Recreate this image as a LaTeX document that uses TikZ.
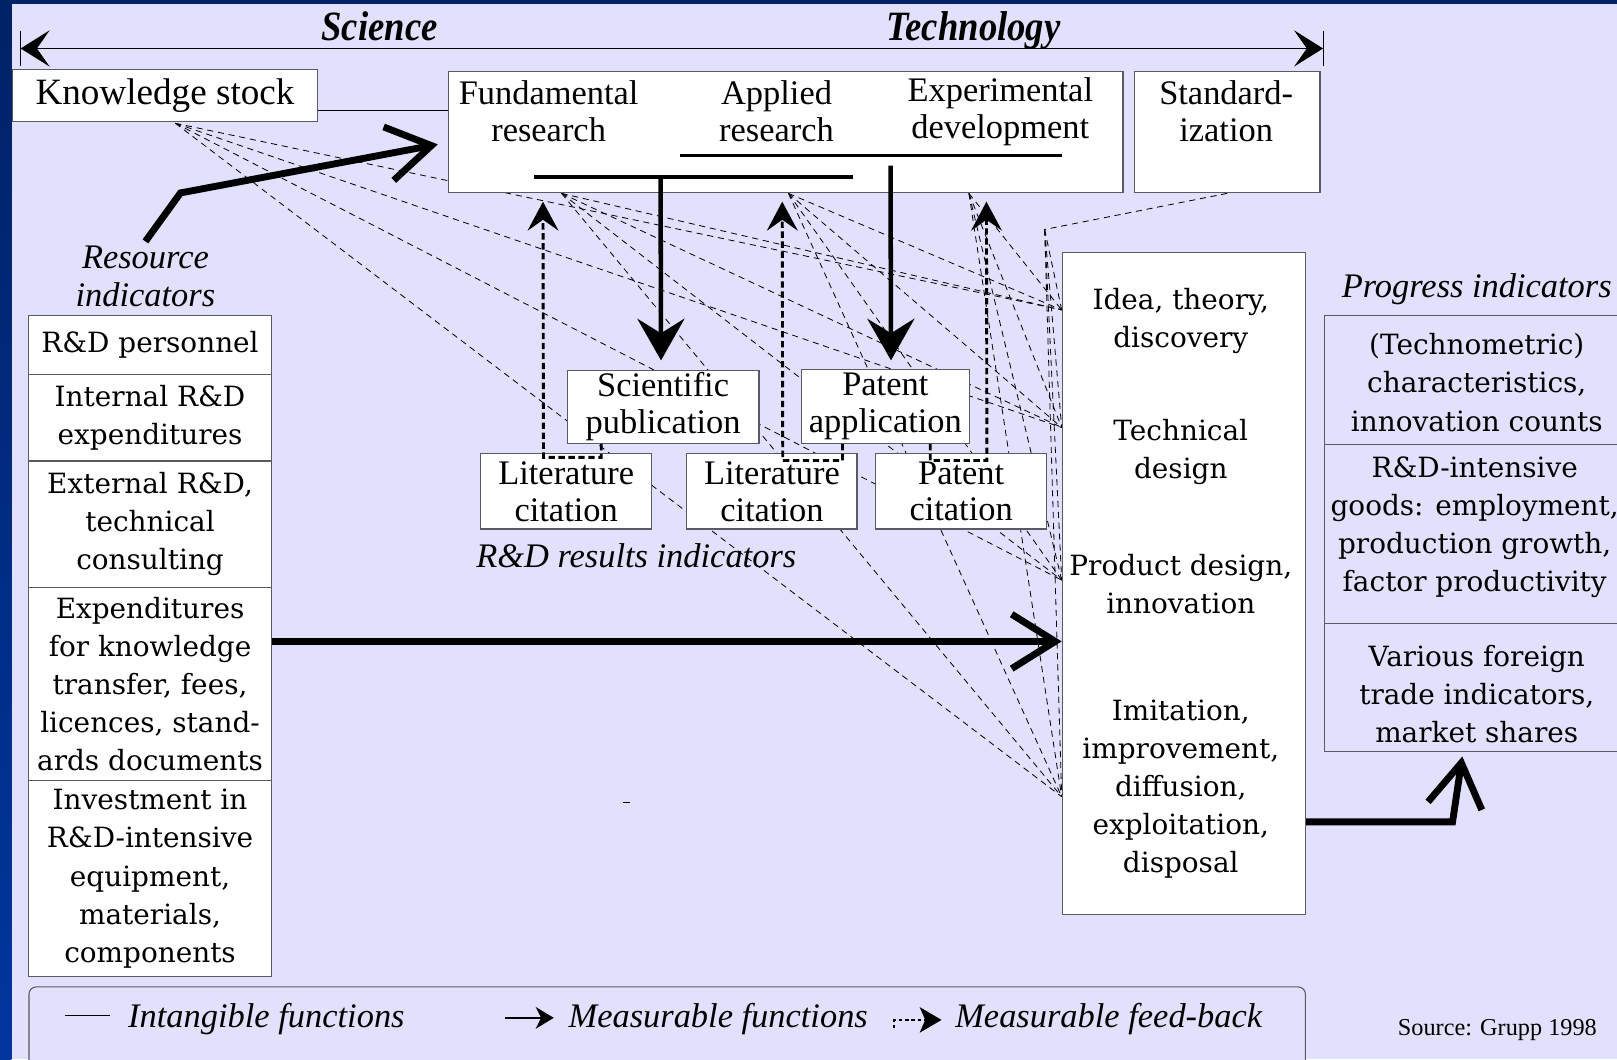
\documentclass[tikz,border=0pt]{standalone}
\usepackage{fontspec}
\setmainfont{Liberation Serif}
\newfontfamily\centfam{DejaVu Serif}
\newfontfamily\titlefam[FakeStretch=0.88]{Liberation Serif}
\usetikzlibrary{arrows.meta,calc}

\definecolor{bg}{RGB}{225,225,253}
\definecolor{navy}{RGB}{0,34,102}
\definecolor{stripe}{RGB}{0,54,158}
\definecolor{edge}{RGB}{90,90,100}

\pgfdeclarelayer{back}
\pgfdeclarelayer{wires}
\pgfsetlayers{back,wires,main}

% type sizes
\newcommand\tmsz{\fontsize{19pt}{20.4pt}\selectfont}
\newcommand\csz{\centfam\fontsize{15.4pt}{21pt}\selectfont}
\newcommand\itsz{\itshape\fontsize{19pt}{21pt}\selectfont}

\begin{document}
\begin{tikzpicture}[x=0.02cm, y=-0.02cm,
  rbox/.style={draw=edge, line width=0.6pt, fill=white, inner sep=0pt, align=center, font=\tmsz},
  cbox/.style={rbox, font=\csz},
  pbox/.style={rbox, fill=bg},
  lbl/.style={inner sep=0pt, align=center},
  wire/.style={line width=0.45pt, dash pattern=on 3.4pt off 2.6pt},
  bigarrow/.style={line width=3.8pt, -{Straight Barb[length=24pt, width=30pt]}},
  bar/.style={line width=1.8pt},
  downarrow/.style={line width=2.5pt, -{Stealth[length=23pt, width=26pt, inset=8pt]}},
  feedback/.style={line width=1.6pt, dash pattern=on 3.5pt off 2pt, -{Stealth[length=16pt, width=17pt, inset=6pt]}},
  span/.style={line width=0.7pt, {Stealth[length=16pt, width=20pt, inset=7pt]}-{Stealth[length=16pt, width=20pt, inset=7pt]}}
]
\useasboundingbox (0,0) rectangle (1568,1027);

% slide background
\begin{pgfonlayer}{back}
  \fill[bg] (0,0) rectangle (1568,1027);
  \shade[top color=navy, bottom color=stripe] (0,0) rectangle (11,1027);
  \fill[navy] (0,0) rectangle (1568,4);
\end{pgfonlayer}

% science / technology span
\coordinate (al) at (20,47);
\coordinate (ar) at (1283,47);
\draw[span] (al) -- (ar);
\draw[line width=0.6pt] ($(al)+(0,-17)$) -- ($(al)+(0,17)$);
\draw[line width=0.6pt] ($(ar)+(0,-17)$) -- ($(ar)+(0,17)$);
\node[lbl, anchor=base, font=\titlefam\bfseries\itshape\fontsize{23pt}{24pt}\selectfont] (science) at (368,39) {Science};
\node[lbl, anchor=base, font=\titlefam\bfseries\itshape\fontsize{23pt}{24pt}\selectfont] (technology) at (944,39) {Technology};

% knowledge stock and research stages
\node[rbox, minimum width=5.92cm, minimum height=1.02cm, font=\fontsize{20.5pt}{22pt}\selectfont] (ks) at (160,92.5) {Knowledge stock};
\node[rbox, minimum width=13.08cm, minimum height=2.36cm] (rd) at (762,128) {};
\node[lbl, font=\tmsz] (fund) at (532,108) {Fundamental\\research};
\node[lbl, font=\tmsz] (appl) at (753,108) {Applied\\research};
\node[lbl, font=\tmsz] (expd) at (970,108) {Experimental\\development};
\node[rbox, minimum width=3.6cm, minimum height=2.36cm] (stdz) at (1190,128) {};
\node[lbl, font=\tmsz] (stdzt) at (1189,108) {Standard-\\ization};

% resource indicators
\node[lbl, font=\itsz] (resind) at (141,268) {Resource\\indicators};
\node[cbox, minimum width=4.7cm, minimum height=1.14cm] (pers) at (145.5,334.5) {R\&D personnel};
\node[cbox, minimum width=4.7cm, minimum height=1.68cm] (intl) at (145.5,405) {Internal R\&D\\expenditures};
\node[cbox, minimum width=4.7cm, minimum height=2.46cm] (extl) at (145.5,508.5) {External R\&D,\\technical\\consulting};
\node[cbox, minimum width=4.7cm, minimum height=3.74cm] (expk) at (145.5,663.5) {Expenditures\\for knowledge\\transfer, fees,\\licences, stand-\\ards documents};
\node[cbox, minimum width=4.7cm, minimum height=3.8cm] (inv) at (145.5,852) {Investment in\\R\&D-intensive\\equipment,\\materials,\\components};

% R&D results indicators
\node[rbox, minimum width=3.72cm, minimum height=1.42cm] (sci) at (643,394.5) {Scientific\\publication};
\node[rbox, minimum width=3.26cm, minimum height=1.44cm] (pa) at (858.5,394) {Patent\\application};
\node[rbox, minimum width=3.32cm, minimum height=1.46cm] (lc1) at (549,476.5) {Literature\\citation};
\node[rbox, minimum width=3.30cm, minimum height=1.46cm] (lc2) at (748.5,476.5) {Literature\\citation};
\node[rbox, minimum width=3.32cm, minimum height=1.46cm] (pc) at (932,476.5) {Patent\\citation};
\node[lbl, font=\itsz] (resultsind) at (617,539) {R\&D results indicators};

% innovation phases
\node[rbox, minimum width=4.72cm, minimum height=12.84cm] (idea) at (1148,566) {};
\node[lbl, font=\csz] (ph1) at (1145,311) {Idea, theory,\\discovery};
\node[lbl, font=\csz] (ph2) at (1145,438) {Technical\\design};
\node[lbl, font=\csz] (ph3) at (1145,566) {Product design,\\innovation};
\node[lbl, font=\csz] (ph4) at (1145,765) {Imitation,\\improvement,\\diffusion,\\exploitation,\\disposal};

% progress indicators
\node[lbl, font=\itsz] (prog) at (1432,280) {Progress indicators};
\node[pbox, minimum width=5.92cm, minimum height=2.5cm] (p1) at (1432,368.5) {};
\node[pbox, minimum width=5.92cm, minimum height=3.48cm] (p2) at (1432,518) {};
\node[pbox, minimum width=5.92cm, minimum height=2.48cm] (p3) at (1432,667) {};
\node[lbl, font=\csz] (p1t) at (1432,371) {(Technometric)\\characteristics,\\innovation counts};
\node[lbl, font=\csz] (p2t) at (1430,511.5) {R\&D-intensive\\goods: employment,\\production growth,\\factor productivity};
\node[lbl, font=\csz] (p3t) at (1432,673) {Various foreign\\trade indicators,\\market shares};

% intangible links from knowledge and research to the innovation phases
\coordinate (ksf) at ($(ks.south)+(10,1)$);
\coordinate (fsrc) at ($(rd.south west)+(110,0)$);
\coordinate (asrc) at ($(rd.south west)+(330,0)$);
\coordinate (esrc) at ($(rd.south west)+(505,0)$);
\coordinate (sdc) at ($(stdz.south)+(-177,35)$);
\coordinate (t1) at ($(idea.north west)+(0,56)$);
\coordinate (t2) at ($(idea.north west)+(0,170)$);
\coordinate (t3) at ($(idea.north west)+(0,318)$);
\coordinate (t4) at ($(idea.north west)+(0,528)$);
\begin{pgfonlayer}{wires}
  \foreach \s in {ksf,fsrc,asrc,esrc,sdc}
    \foreach \t in {t1,t2,t3,t4}
      \draw[wire] (\s) -- (\t);
  \draw[wire] (stdz.south) -- (sdc);
\end{pgfonlayer}
\draw[line width=0.6pt] ($(ks.east)+(0,14.5)$) coordinate (kl) -- (kl -| rd.west);

% measurable functions
\draw[bar] ($(rd.south west)+(83,-16)$) -- ($(rd.south west)+(393,-16)$);
\draw[bar] ($(rd.south west)+(225,-37)$) -- ($(rd.south west)+(595,-37)$);
\draw[downarrow] ($(rd.south west)+(206,-16)$) -- ($(sci.north)+(-2,-9)$);
\draw[downarrow] ($(rd.south west)+(429,-27)$) -- ($(pa.north)+(5.5,-8)$);
\draw[bigarrow] ($(expk.east)+(0,-41.5)$) coordinate (ka) -- (ka -| idea.west);
\draw[bigarrow] ($(resind.north)+(0,-4)$) -- ++(34,-47) -- ($(rd.west)+(-10,12)$);
\draw[bigarrow] ($(idea.east)+(0,231)$) -- ++(142,0) -- ($(p3.south)+(-14,4)$);

% measurable feed-back
\draw[feedback] ($(sci.south)+(-60,0)$) -- ++(0,13) -- ++(-56,0) -- ($(rd.south west)+(92,8)$);
\draw[feedback] ($(pa.south)+(-41.5,0)$) -- ++(0,16) -- ++(-58,0) -- ($(rd.south west)+(324,8)$);
\draw[feedback] ($(pa.south)+(43.5,0)$) -- ++(0,16) -- ++(55,0) -- ($(rd.south west)+(522,8)$);

% stray mark
\draw[line width=0.6pt] (604,778) -- (611,778);

% legend
\node[draw=edge, line width=0.6pt, fill=bg, rounded corners=4pt, inner sep=0pt, minimum width=24.76cm, minimum height=1.76cm] (legend) at (647,1001) {};
\node[lbl, anchor=west, font=\itsz] (lg1) at (124,988) {Intangible functions};
\node[lbl, anchor=west, font=\itsz] (lg2) at (551,988) {Measurable functions};
\node[lbl, anchor=west, font=\itsz] (lg3) at (926,988) {Measurable feed-back};
\draw[line width=0.6pt] ($(lg1.west)+(-61,-3)$) -- ($(lg1.west)+(-17,-3)$);
\draw[line width=0.8pt, -{Stealth[length=10pt, width=12pt, inset=3pt]}] ($(lg2.west)+(-61,-1)$) -- ($(lg2.west)+(-14,-1)$);
\draw[line width=1.1pt, dash pattern=on 2pt off 1.5pt, -{Stealth[length=12pt, width=14pt, inset=3pt]}] ($(lg3.west)+(-59,9)$) -- ++(0,-8) -- ($(lg3.west)+(-13,1)$);

\node[lbl, font=\fontsize{13.4pt}{16pt}\selectfont] (src) at (1452,999) {Source: Grupp 1998};
\end{tikzpicture}
\end{document}
